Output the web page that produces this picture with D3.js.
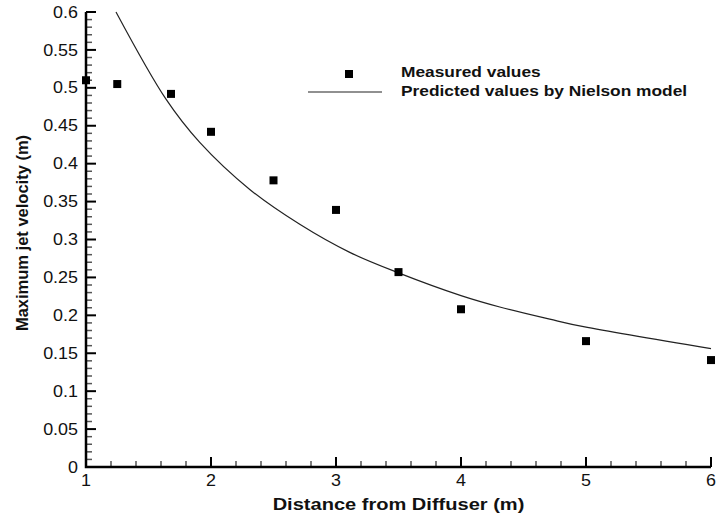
<!DOCTYPE html>
<html>
<head>
<meta charset="utf-8">
<script src="https://cdn.jsdelivr.net/npm/d3@7"></script>
<style>
  body { margin: 0; background: #fff; }
  svg text { font-family: "Liberation Sans", Arial, sans-serif; fill: #111; }
</style>
</head>
<body>
<div id="chart"></div>
<script>
var measuredX = [1, 1.25, 1.68, 2, 2.5, 3, 3.5, 4, 5, 6];
var measuredY = [0.51, 0.505, 0.492, 0.442, 0.378, 0.339, 0.257, 0.208, 0.166, 0.141];

// Nielson model curve, sampled along the drawn line
var modelX = [1.24, 1.64, 1.91, 2.31, 2.71, 3.11, 3.5, 4.0, 4.31, 4.71, 4.98, 6.0];
var modelY = [0.6, 0.485, 0.428, 0.366, 0.32, 0.283, 0.256, 0.226, 0.211, 0.195, 0.185, 0.156];

var xTicks = [1, 2, 3, 4, 5, 6];
var xTickLabels = ['1', '2', '3', '4', '5', '6'];
var yTicks = [0, 0.05, 0.1, 0.15, 0.2, 0.25, 0.3, 0.35, 0.4, 0.45, 0.5, 0.55, 0.6];
var yTickLabels = ['0', '0.05', '0.1', '0.15', '0.2', '0.25', '0.3', '0.35', '0.4', '0.45', '0.5', '0.55', '0.6'];

var legendLabels = ['Measured values', 'Predicted values by Nielson model'];

var width = 717, height = 518;

var svg = d3.select('#chart')
    .append('svg')
    .attr('width', width)
    .attr('height', height)

var x = d3.scaleLinear().domain([1, 6]).range([86, 711]);
var y = d3.scaleLinear().domain([0, 0.6]).range([467, 12]);

// the original figure's lettering is a bit wider than Arial, so stretch it sideways
function placeText(sel, px, py, sx, anchor) {
    sel.attr('transform', 'translate(' + px + ',' + py + ') scale(' + sx + ',1)')
        .attr('text-anchor', anchor);
}

// minor ticks (gray, shorter)
var xMinor = d3.range(1, 6.001, 0.2).filter(v => Math.abs(v - Math.round(v)) > 1e-6);
var yMinor = d3.range(0, 0.6001, 0.01).filter(v => Math.abs(v * 20 - Math.round(v * 20)) > 1e-6);

svg.append('g').selectAll('line')
    .data(xMinor)
    .join('line')
    .attr('x1', d => x(d)).attr('x2', d => x(d))
    .attr('y1', y(0)).attr('y2', y(0) - 6)
    .attr('stroke', '#555').attr('stroke-width', 1.5);

svg.append('g').selectAll('line')
    .data(yMinor)
    .join('line')
    .attr('x1', x(1)).attr('x2', x(1) + 6)
    .attr('y1', d => y(d)).attr('y2', d => y(d))
    .attr('stroke', '#555').attr('stroke-width', 1.5);

// major ticks
svg.append('g').selectAll('line')
    .data(xTicks)
    .join('line')
    .attr('x1', d => x(d)).attr('x2', d => x(d))
    .attr('y1', y(0)).attr('y2', y(0) - 10)
    .attr('stroke', '#000').attr('stroke-width', 2);

svg.append('g').selectAll('line')
    .data(yTicks)
    .join('line')
    .attr('x1', x(1)).attr('x2', x(1) + 10)
    .attr('y1', d => y(d)).attr('y2', d => y(d))
    .attr('stroke', '#000').attr('stroke-width', 2);

// axis lines
svg.append('path')
    .attr('d', 'M' + x(1) + ',' + y(0.6) + 'V' + y(0) + 'H' + x(6))
    .attr('fill', 'none')
    .attr('stroke', '#000')
    .attr('stroke-width', 2.5);

// tick labels
svg.append('g').selectAll('text')
    .data(xTicks)
    .join('text')
    .style('font-size', '16px')
    .text((d, i) => xTickLabels[i])
    .each(function (d) { placeText(d3.select(this), x(d), y(0) + 19, 1.12, 'middle'); });

svg.append('g').selectAll('text')
    .data(yTicks)
    .join('text')
    .style('font-size', '16px')
    .attr('dy', '0.35em')
    .text((d, i) => yTickLabels[i])
    .each(function (d) { placeText(d3.select(this), x(1) - 8, y(d), 1.12, 'end'); });

// axis titles
svg.append('text')
    .style('font-weight', 'bold')
    .style('font-size', '17px')
    .text('Distance from Diffuser (m)')
    .call(placeText, (x(1) + x(6)) / 2, 510, 1.18, 'middle');

svg.append('text')
    .attr('transform', 'translate(27.5,233) rotate(-90)')
    .attr('text-anchor', 'middle')
    .style('font-weight', 'bold')
    .style('font-size', '16.5px')
    .text('Maximum jet velocity (m)');

// model line
var model = modelX.map((d, i) => ({x: d, y: modelY[i]}));
svg.append('path')
    .datum(model)
    .attr('fill', 'none')
    .attr('stroke', '#222')
    .attr('stroke-width', 1.2)
    .attr('d', d3.line().x(d => x(d.x)).y(d => y(d.y)).curve(d3.curveCatmullRom.alpha(0.5)));

// measured points
var measured = measuredX.map((d, i) => ({x: d, y: measuredY[i]}));
svg.append('g')
    .selectAll('rect')
    .data(measured)
    .join('rect')
    .attr('x', d => x(d.x) - 4)
    .attr('y', d => y(d.y) - 4)
    .attr('width', 8)
    .attr('height', 8)
    .attr('fill', '#000');

// legend
var legend = svg.append('g');
legend.append('rect')
    .attr('x', 345).attr('y', 70).attr('width', 8).attr('height', 8).attr('fill', '#000');
legend.append('line')
    .attr('x1', 308).attr('x2', 382).attr('y1', 92).attr('y2', 92)
    .attr('stroke', '#222').attr('stroke-width', 1.2);
legend.selectAll('text')
    .data(legendLabels)
    .join('text')
    .style('font-weight', 'bold')
    .style('font-size', '14px')
    .text(d => d)
    .each(function (d, i) { placeText(d3.select(this), 401, 77 + i * 18.5, 1.24, 'start'); });
</script>
</body>
</html>
